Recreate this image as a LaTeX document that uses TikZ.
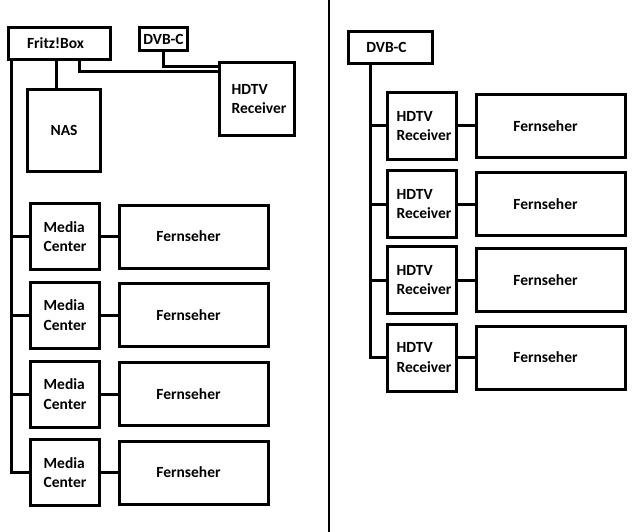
\documentclass[tikz,border=0pt]{standalone}
\usepackage{fontspec}
\setmainfont{Carlito}
\begin{document}
\begin{tikzpicture}[x=1pt,y=-1pt,
  box/.style={draw=black, line width=3pt, fill=white, inner sep=0pt, align=left,
    font=\fontsize{15.5}{19.5}\selectfont\bfseries},
  conn/.style={draw=black, line width=3pt}]
\useasboundingbox (0,0) rectangle (640,532);
\fill[white] (0,0) rectangle (640,532);
% divider
\draw[line width=2.5pt] (329,0) -- (329,532);
% left panel
\node[box, minimum width=102pt, minimum height=32pt] (fritz) at (59.5,43.5) {Fritz!Box\hspace*{8pt}};
\node[box, minimum width=48pt, minimum height=23pt] (dvbL) at (163.5,39) {DVB-C};
\node[box, minimum width=75pt, minimum height=73pt] (hdL) at (257,99) {\hspace*{4pt}HDTV\\\hspace*{4pt}Receiver};
\node[box, minimum width=73pt, minimum height=82pt] (nas) at (64,130.5) {NAS};
\foreach \i/\y in {1/236.5,2/315,3/394,4/472.5}{
  \node[box, minimum width=69pt, minimum height=66pt] (mc\i) at (65,\y) {Media\\Center};
  \node[box, minimum width=149pt, minimum height=63pt] (fl\i) at (194,\y) {Fernseher\hspace*{11pt}};
}
\draw[conn] ([xshift=-8pt]nas.north) -- ([xshift=-8pt]nas.north |- fritz.south);
\draw[conn] ([xshift=19.5pt]fritz.south) |- ([yshift=27pt]hdL.west);
\draw[conn] (dvbL.south) |- ([yshift=32pt]hdL.west);
\draw[conn] ([xshift=4.5pt]fritz.south west) |- (mc4.west);
\foreach \i in {1,2,3}{
  \draw[conn] ([xshift=4.5pt]fritz.south west |- mc\i.west) -- (mc\i.west);
}
\foreach \i in {1,2,3,4}{
  \draw[conn] (mc\i.east) -- (mc\i.east -| fl\i.west);
}
% right panel
\node[box, minimum width=84pt, minimum height=32pt] (dvbR) at (390.5,47.5) {DVB-C\hspace*{8pt}};
\foreach \i/\y in {1/126,2/204,3/280,4/357.5}{
  \node[box, minimum width=69pt, minimum height=67pt] (hr\i) at (422,\y) {\hspace*{4pt}HDTV\\\hspace*{4pt}Receiver};
  \node[box, minimum width=149pt, minimum height=63pt] (fr\i) at (551,\y) {Fernseher\hspace*{11pt}};
}
\draw[conn] ([xshift=-20.5pt]dvbR.south) |- (hr4.west);
\foreach \i in {1,2,3}{
  \draw[conn] ([xshift=-20.5pt]dvbR.south |- hr\i.west) -- (hr\i.west);
}
\foreach \i in {1,2,3,4}{
  \draw[conn] (hr\i.east) -- (hr\i.east -| fr\i.west);
}
\end{tikzpicture}
\end{document}
